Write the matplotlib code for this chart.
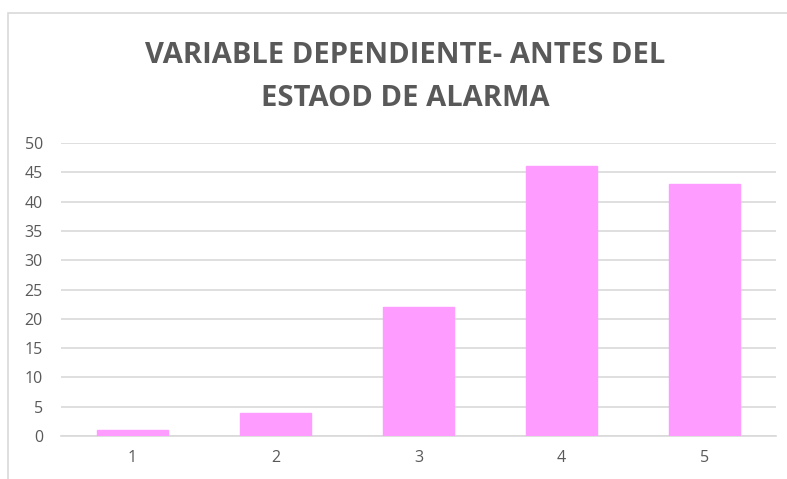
import numpy as np
import matplotlib.pyplot as plt
from matplotlib.patches import Rectangle

categories = ['1', '2', '3', '4', '5']
values = [1, 4, 22, 46, 43]
yticks = [0, 5, 10, 15, 20, 25, 30, 35, 40, 45, 50]
title = 'VARIABLE DEPENDIENTE- ANTES DEL\nESTAOD DE ALARMA'

plt.rcParams['font.family'] = ['Open Sans', 'DejaVu Sans']

fig = plt.figure(figsize=(7.87, 4.79), dpi=100)
# chart frame (only left and top edges visible in the crop)
fig.patches.append(Rectangle((8 / 787, -0.1), 1.2, 1 - 13 / 479 + 0.1, transform=fig.transFigure,
                             fill=False, edgecolor='#d9d9d9', linewidth=1.2))

ax = fig.add_axes([61 / 787, 1 - 436 / 479, (776 - 61) / 787, (436 - 143) / 479])
x = np.arange(1, len(categories) + 1)
ax.bar(x, values, width=0.5, color='#ff9cff', edgecolor='#ff9cff', zorder=3)
ax.set_xlim(0.5, 5.5)
ax.set_ylim(0, 50)
ax.set_yticks(yticks)
ax.set_xticks(x)
ax.set_xticklabels(categories)
ax.grid(axis='y', color='#d9d9d9', linewidth=1.2, zorder=0)
for s in ['top', 'right', 'left']:
    ax.spines[s].set_visible(False)
ax.spines['bottom'].set_color('#d9d9d9')
ax.spines['bottom'].set_linewidth(1.2)
ax.tick_params(length=0, labelsize=11.5, labelcolor='#595959')
ax.tick_params(axis='x', pad=10)
ax.tick_params(axis='y', pad=13)

fig.text(0.515, 1 - 77 / 479, title, ha='center', va='center', fontsize=21, fontweight='bold',
         color='#595959', linespacing=1.6)

fig.savefig('out.png', dpi=100)
